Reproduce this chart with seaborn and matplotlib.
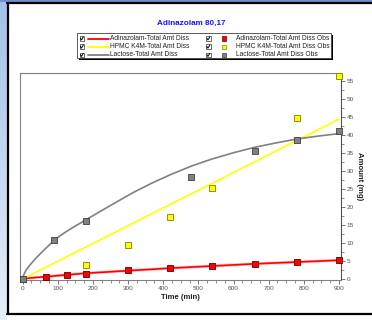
import numpy as np
import pandas as pd
import matplotlib
matplotlib.use("Agg")
import matplotlib.pyplot as plt
from matplotlib.patches import Rectangle
from matplotlib.lines import Line2D
import seaborn as sns

# Fitted (simulated) total amount dissolved curves
adz_line_t = [0, 180, 420, 660, 900]
adz_line_y = [0.1, 1.6, 3.0, 4.2, 5.2]
hpmc_line_t = [0, 900]
hpmc_line_y = [0.0, 44.3]
lac_line_t = [0, 2, 5, 10, 20, 35, 50, 70, 90, 120, 150, 180, 220, 270, 315, 370,
              420, 480, 540, 600, 660, 720, 780, 840, 900]
lac_line_y = [0, 0.9, 1.6, 2.5, 3.8, 5.5, 7.0, 8.9, 10.8, 12.9, 14.7, 16.4, 18.7, 21.5,
              24.0, 26.7, 28.9, 31.3, 33.3, 35.0, 36.5, 37.7, 38.8, 39.6, 40.3]

# Observed total amount dissolved
adz_obs_t = [0, 65, 125, 180, 300, 420, 540, 660, 780, 900]
adz_obs_y = [0, 0.65, 1.1, 1.5, 2.4, 3.05, 3.7, 4.2, 4.7, 5.3]
hpmc_obs_t = [0, 180, 300, 420, 540, 780, 900]
hpmc_obs_y = [0, 4.0, 9.5, 17.3, 25.2, 44.7, 56.4]
lac_obs_t = [0, 90, 180, 480, 660, 780, 900]
lac_obs_y = [0, 10.8, 16.2, 28.4, 35.6, 38.4, 40.9]

x_ticks = [0, 100, 200, 300, 400, 500, 600, 700, 800, 900]
y_ticks = [0, 5, 10, 15, 20, 25, 30, 35, 40, 45, 50, 55]

title = "Adinazolam 80,17"
line_labels = ["Adinazolam-Total Amt Diss", "HPMC K4M-Total Amt Diss", "Lactose-Total Amt Diss"]
obs_labels = ["Adinazolam-Total Amt Diss Obs", "HPMC K4M-Total Amt Diss Obs", "Lactose-Total Amt Diss Obs"]

RED, YEL, GRY = "#ff0000", "#ffff00", "#808080"
EDGE = ["#600000", "#808000", "#404040"]

sns.set_style("white")
plt.rcParams["font.family"] = ["Liberation Sans", "DejaVu Sans"]

W, H = 372, 320
fig = plt.figure(figsize=(W / 100, H / 100), dpi=100)
fig.patch.set_facecolor("white")

lines = pd.concat([
    pd.DataFrame({"t": adz_line_t, "y": adz_line_y, "s": line_labels[0]}),
    pd.DataFrame({"t": hpmc_line_t, "y": hpmc_line_y, "s": line_labels[1]}),
    pd.DataFrame({"t": lac_line_t, "y": lac_line_y, "s": line_labels[2]}),
])
obs = [
    pd.DataFrame({"t": adz_obs_t, "y": adz_obs_y}),
    pd.DataFrame({"t": hpmc_obs_t, "y": hpmc_obs_y}),
    pd.DataFrame({"t": lac_obs_t, "y": lac_obs_y}),
]

ax = fig.add_axes([20 / W, 1 - 280 / H, 320.5 / W, 207 / H])
ax.set_facecolor("white")

# soft halo under the red curve
sns.lineplot(data=lines[lines.s == line_labels[0]], x="t", y="y", ax=ax,
             color="#ff8080", lw=2.2, alpha=0.45, legend=False)
sns.lineplot(data=lines, x="t", y="y", hue="s", ax=ax,
             palette={line_labels[0]: RED, line_labels[1]: YEL, line_labels[2]: GRY},
             lw=1.2, legend=False, sort=False)
for df, c, e in zip(obs, [RED, YEL, GRY], EDGE):
    sns.scatterplot(data=df, x="t", y="y", ax=ax, marker="s", s=18, color=c,
                    edgecolor=e, linewidth=0.6, legend=False, clip_on=False, zorder=5)

ax.set_xlim(-7.7, 904.4)
ax.set_ylim(-0.28, 57.1)
ax.set_xticks(x_ticks)
ax.set_xticks(np.arange(0, 901, 25), minor=True)
ax.set_yticks(y_ticks)
ax.set_yticks(np.arange(0, 57, 2.5), minor=True)
ax.yaxis.tick_right()
ax.yaxis.set_label_position("right")
ax.tick_params(axis="both", which="major", direction="out", length=3, width=0.6,
               color="#606060", labelsize=4.6, labelcolor="#505050", pad=1.2)
ax.tick_params(axis="both", which="minor", direction="out", length=1.8, width=0.5,
               color="#606060")
ax.tick_params(axis="x", which="both", bottom=True, top=False)
ax.tick_params(axis="y", which="both", right=True, left=False)
for side in ["left", "top", "right", "bottom"]:
    ax.spines[side].set_visible(True)
    ax.spines[side].set_color("#808080")
    ax.spines[side].set_linewidth(0.8)
ax.spines["right"].set_color("#505050")
ax.set_xlabel("Time (min)", fontsize=5.6, fontweight="bold", color="#202020", labelpad=2)
ax.set_ylabel("Amount (mg)", fontsize=5.6, fontweight="bold", color="#202020",
              rotation=270, labelpad=7)

# overlay in pixel coordinates for frame, title and legend box
ov = fig.add_axes([0, 0, 1, 1], zorder=-1)
grad = np.linspace(0, 1, 200).reshape(-1, 1)
cmap = matplotlib.colors.LinearSegmentedColormap.from_list("strip", ["#a4c0e8", "#e6eef9"])
ov.imshow(grad, extent=[0, 7, H, 0], cmap=cmap, aspect="auto")
ov.add_patch(Rectangle((0, 0), W, 2.2, color="#6f8fc8", lw=0))
ov.set_xlim(0, W)
ov.set_ylim(H, 0)
ov.axis("off")

top = fig.add_axes([0, 0, 1, 1], zorder=3)
top.set_xlim(0, W)
top.set_ylim(H, 0)
top.axis("off")
top.patch.set_alpha(0)
top.add_line(Line2D([8, 8], [3, 313.5], color="black", lw=1.6))
top.add_line(Line2D([7.2, W + 2], [3, 3], color="black", lw=1.6, clip_on=False))
top.add_line(Line2D([7.2, W + 2], [313.5, 313.5], color="black", lw=1.6, clip_on=False))

top.text(191, 23.5, title, ha="center", va="center", fontsize=5.9,
         fontweight="bold", color="#1414ff")

# legend box with shadow
top.add_patch(Rectangle((78.5, 35), 254, 25, facecolor="black", lw=0))
top.add_patch(Rectangle((76.5, 33.3), 254, 25, facecolor="white", edgecolor="#404040", lw=0.6))
rows = [38.5, 46.7, 55.0]
cols_line = [RED, YEL, GRY]


def checkbox(x, y):
    top.add_patch(Rectangle((x, y - 2.3), 4.6, 4.6, facecolor="white",
                            edgecolor="#303030", lw=0.5))
    top.add_line(Line2D([x + 0.9, x + 1.9, x + 3.8], [y - 0.2, y + 1.4, y - 1.5],
                        color="black", lw=0.7))


for r, c, lab in zip(rows, cols_line, line_labels):
    checkbox(79.5, r)
    top.add_line(Line2D([88, 108.5], [r, r], color=c, lw=1.3))
    top.text(110, r, lab, fontsize=4.8, va="center", ha="left", color="#202020")
for r, c, e, lab in zip(rows, cols_line, EDGE, obs_labels):
    checkbox(206, r)
    top.add_patch(Rectangle((222, r - 2.2), 4.4, 4.4, facecolor=c, edgecolor=e, lw=0.5))
    top.text(236, r, lab, fontsize=4.8, va="center", ha="left", color="#202020")

fig.savefig("out.png", dpi=100, facecolor=fig.get_facecolor())
